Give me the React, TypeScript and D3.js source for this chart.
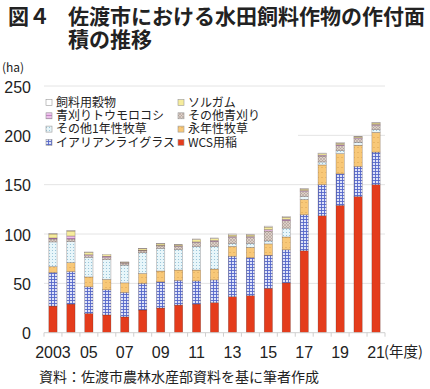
import React from "react";
import * as d3 from "d3";

const years = [
	"2003", "2004", "2005", "2006", "2007", "2008", "2009", "2010", "2011", "2012",
	"2013", "2014", "2015", "2016", "2017", "2018", "2019", "2020", "2021",
];
const yearLabels = ["2003", "", "05", "", "07", "", "09", "", "11", "", "13", "", "15", "", "17", "", "19", "", "21"];
const yTicks = [0, 50, 100, 150, 200, 250];

// bottom to top
const wcs = [27, 29, 19.5, 18, 16, 23, 25, 28, 29, 30.5, 36.5, 37.5, 45, 50.5, 83, 118.5, 129, 138, 150];
const italian = [34, 33, 27, 25.5, 24.8, 27, 26.5, 25, 23.5, 23, 41, 38.5, 33.5, 33.5, 36.5, 31.5, 32, 30.5, 33];
const perennial = [6, 9, 10, 10.5, 9.7, 10, 11, 10.5, 11, 11, 10, 10.5, 11.5, 13, 15.5, 20, 20.5, 21.5, 20];
const annualOther = [25, 21.5, 20, 20, 18, 21, 23, 21, 24, 23, 3, 4, 3, 9, 3, 3, 3, 3, 3];
const greenOther = [3, 2.5, 1.5, 2, 2, 2, 2.5, 3, 4, 5, 6, 6, 10, 7.5, 5, 6, 5, 3.5, 4];
const corn = [1, 3, 1, 1.5, 0.5, 0.5, 0.5, 0.5, 0.5, 1, 1, 1, 1.5, 1.5, 1, 1, 1, 1, 1];
const sorghum = [4, 5, 2.5, 1.5, 0.5, 1.5, 1.5, 1, 2.5, 2, 1.5, 1.5, 2.5, 2, 1.5, 1.5, 1.5, 1, 1.5];
const grain = [0.5, 0.5, 0.3, 0, 0.2, 0.3, 0.3, 0.3, 0.5, 0.5, 1, 0.8, 1, 0.7, 0.5, 0.5, 0.5, 0.3, 0.5];

const series = [
	{ key: "wcs", label: "WCS用稲", values: wcs, fill: "#e43c1c" },
	{ key: "italian", label: "イアリアンライグラス", values: italian, fill: "url(#pPlaid)" },
	{ key: "perennial", label: "永年性牧草", values: perennial, fill: "url(#pOrange)" },
	{ key: "annualOther", label: "その他1年性牧草", values: annualOther, fill: "url(#pCyan)" },
	{ key: "greenOther", label: "その他青刈り", values: greenOther, fill: "url(#pGray)" },
	{ key: "corn", label: "青刈りトウモロコシ", values: corn, fill: "url(#pPink)" },
	{ key: "sorghum", label: "ソルガム", values: sorghum, fill: "#f6ec9c" },
	{ key: "grain", label: "飼料用穀物", values: grain, fill: "#ffffff" },
];

// legend order (row by row, 2 columns)
const legendOrder = ["grain", "sorghum", "corn", "greenOther", "annualOther", "perennial", "italian", "wcs"];

const W = 430;
const H = 389;
const jp = "'Noto Sans CJK JP', sans-serif";
const num = "'Liberation Sans', Arial, sans-serif";

export default function App() {
	const x = d3.scaleBand().domain(years).range([44, 385]).paddingInner(0.54).paddingOuter(0.27);
	const y = d3.scaleLinear().domain([0, 250]).range([332.7, 86]);

	const table = years.map((yr, i) => {
		const row: any = { year: yr };
		series.forEach((s) => (row[s.key] = s.values[i]));
		return row;
	});
	const stacked = d3.stack().keys(series.map((s) => s.key))(table);

	const step = x.step();
	const tickXs = d3.range(years.length + 1).map((i) => 44 + i * step);

	return (
		<svg width={W} height={H} style={{ position: "absolute", left: 0, top: 0 }}>
			<defs>
				<pattern id="pPlaid" patternUnits="userSpaceOnUse" width={3} height={3}>
					<rect width={3} height={3} fill="#dfe3f8" />
					<path d="M0 0.5H3M0.5 0V3" stroke="#5566c8" strokeWidth={0.9} />
				</pattern>
				<pattern id="pOrange" patternUnits="userSpaceOnUse" width={4} height={5}>
					<rect width={4} height={5} fill="#f8c878" />
					<circle cx={2} cy={2.5} r={0.5} fill="#d29a48" />
				</pattern>
				<pattern id="pCyan" patternUnits="userSpaceOnUse" width={3} height={3}>
					<rect width={3} height={3} fill="#e8f6fa" />
					<circle cx={1.5} cy={1.5} r={0.55} fill="#8cbcd4" />
				</pattern>
				<pattern id="pGray" patternUnits="userSpaceOnUse" width={3} height={3}>
					<rect width={3} height={3} fill="#ddd0c8" />
					<path d="M0 0L3 3M3 0L0 3" stroke="#a69890" strokeWidth={0.5} />
				</pattern>
				<pattern id="pPink" patternUnits="userSpaceOnUse" width={3} height={3}>
					<rect width={3} height={3} fill="#ecc0ea" />
					<path d="M0 1.5H3" stroke="#b068b0" strokeWidth={0.7} />
				</pattern>
			</defs>

			{/* title */}
			<text x={8} y={24} fontFamily={jp} fontSize={21} fontWeight={700} fill="#222">図４</text>
			<text x={68} y={24} fontFamily={jp} fontSize={21} fontWeight={700} fill="#222">佐渡市における水田飼料作物の作付面</text>
			<text x={68} y={47} fontFamily={jp} fontSize={21} fontWeight={700} fill="#222">積の推移</text>
			<text x={2} y={72} fontFamily={jp} fontSize={12} fill="#222">(ha)</text>

			{/* grid */}
			{yTicks.filter((t) => t > 0).map((t) => (
				<line key={t} x1={44} x2={385} y1={y(t)} y2={y(t)} stroke="#e4e4e4" strokeWidth={1} />
			))}
			{yTicks.map((t) => (
				<text key={t} x={31} y={y(t) + 6.5} textAnchor="end"
					fontFamily={num} fontSize={16} fill="#222">{t}</text>
			))}

			{/* bars */}
			{stacked.map((layer, li) => (
				<g key={layer.key} fill={series[li].fill}>
					{layer.map((d, i) => {
						const h = y(d[0]) - y(d[1]);
						if (h <= 0) return null;
						return (
							<rect key={i} x={x(years[i])} y={y(d[1])} width={x.bandwidth()} height={h}
								stroke="rgba(60,40,40,0.45)" strokeWidth={0.5} />
						);
					})}
				</g>
			))}

			{/* x axis */}
			<line x1={44} x2={385} y1={y(0)} y2={y(0)} stroke="#cfcfcf" />
			{tickXs.map((tx, i) => (
				<line key={i} x1={tx} x2={tx} y1={y(0)} y2={y(0) + 4} stroke="#cfcfcf" />
			))}
			{yearLabels.map((l, i) => l ? (
				<text key={i} x={x(years[i])! + x.bandwidth() / 2} y={358} textAnchor="middle"
					fontFamily={num} fontSize={16} fill="#222">{l}</text>
			) : null)}
			<text x={384} y={357} fontFamily={jp} fontSize={14.5} fill="#222">(年度)</text>

			{/* legend */}
			<rect x={40} y={92} width={258} height={58} fill="#fff" />
			{legendOrder.map((k, i) => {
				const s = series.find((d) => d.key === k)!;
				const col = i % 2;
				const row = Math.floor(i / 2);
				const lx = col === 0 ? 46 : 178;
				const ly = 102.5 + row * 13.3;
				return (
					<g key={k}>
						<rect x={lx} y={ly - 3} width={6} height={6} fill={s.fill} stroke="#999" strokeWidth={0.6} />
						<text x={lx + 10} y={ly + 4.3} fontFamily={jp} fontSize={12} fill="#222">{s.label}</text>
					</g>
				);
			})}

			{/* source */}
			<text x={39} y={382} fontFamily={jp} fontSize={14} fill="#222">資料：佐渡市農林水産部資料を基に筆者作成</text>
		</svg>
	);
}
